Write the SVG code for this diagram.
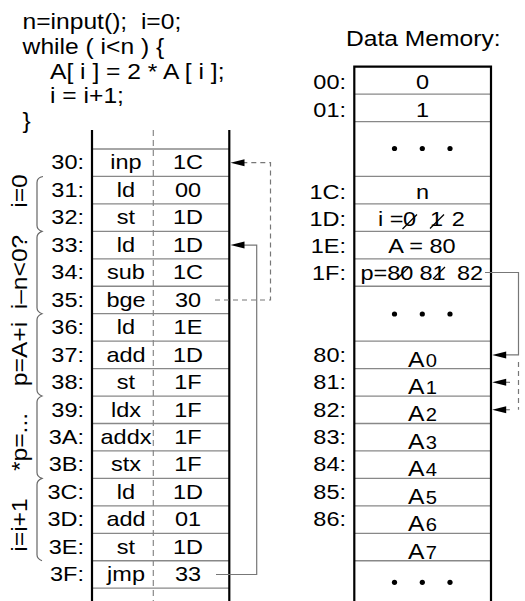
<svg xmlns="http://www.w3.org/2000/svg" width="525" height="601" viewBox="0 0 525 601">
<style>
.t{font-family:"Liberation Sans",Arial,Helvetica,sans-serif;font-size:21px;fill:#000;transform-box:fill-box;transform:scaleX(1.12);white-space:pre}
.c{font-size:22px}
.a{font-size:22px}
.m{text-anchor:middle;transform-origin:center}
.e{text-anchor:end;transform-origin:right center}
.s{text-anchor:start;transform-origin:left center}
.sub{font-size:18px}
.row{stroke:#888;stroke-width:1.3}
.box{fill:none;stroke:#000;stroke-width:2.2}
.dv{stroke:#888;stroke-width:1.2;stroke-dasharray:6 4}
.cn{fill:none;stroke:#777;stroke-width:1.2}
.dash{stroke-dasharray:5 4}
.ah{fill:#000}
.br{fill:none;stroke:#666;stroke-width:1.2}
.dot{fill:#000}
.st{stroke:#000;stroke-width:1.2}
</style>

<g id="code">
<text class="t c s" x="22.5" y="29" xml:space="preserve">n=input();  i=0;</text>
<text class="t c s" x="22.5" y="54">while ( i&lt;n ) {</text>
<text class="t c s" x="50" y="79">A[ i ] = 2 * A [ i ];</text>
<text class="t c s" x="50" y="103.5">i = i+1;</text>
<text class="t c s" x="22.5" y="128">}</text>
</g>

<g id="program-memory">
<line class="dv" x1="153.3" y1="130" x2="153.3" y2="601"/>
<line class="row" x1="92" y1="149" x2="229" y2="149"/>
<line class="row" x1="92" y1="176.45" x2="229" y2="176.45"/>
<line class="row" x1="92" y1="203.9" x2="229" y2="203.9"/>
<line class="row" x1="92" y1="231.35" x2="229" y2="231.35"/>
<line class="row" x1="92" y1="258.8" x2="229" y2="258.8"/>
<line class="row" x1="92" y1="286.25" x2="229" y2="286.25"/>
<line class="row" x1="92" y1="313.7" x2="229" y2="313.7"/>
<line class="row" x1="92" y1="341.15" x2="229" y2="341.15"/>
<line class="row" x1="92" y1="368.6" x2="229" y2="368.6"/>
<line class="row" x1="92" y1="396.05" x2="229" y2="396.05"/>
<line class="row" x1="92" y1="423.5" x2="229" y2="423.5"/>
<line class="row" x1="92" y1="450.95" x2="229" y2="450.95"/>
<line class="row" x1="92" y1="478.4" x2="229" y2="478.4"/>
<line class="row" x1="92" y1="505.85" x2="229" y2="505.85"/>
<line class="row" x1="92" y1="533.3" x2="229" y2="533.3"/>
<line class="row" x1="92" y1="560.75" x2="229" y2="560.75"/>
<line class="row" x1="92" y1="588.2" x2="229" y2="588.2"/>
<line class="box" x1="92" y1="130" x2="92" y2="601"/>
<line class="box" x1="229.3" y1="130" x2="229.3" y2="601"/>
</g>

<g id="p30"><text class="t e" x="84" y="169.5">30:</text><text class="t m" x="126" y="169.5">inp</text><text class="t m" x="188" y="169.5">1C</text></g>
<g id="p31"><text class="t e" x="84" y="196.95">31:</text><text class="t m" x="126" y="196.95">ld</text><text class="t m" x="188" y="196.95">00</text></g>
<g id="p32"><text class="t e" x="84" y="224.4">32:</text><text class="t m" x="126" y="224.4">st</text><text class="t m" x="188" y="224.4">1D</text></g>
<g id="p33"><text class="t e" x="84" y="251.85">33:</text><text class="t m" x="126" y="251.85">ld</text><text class="t m" x="188" y="251.85">1D</text></g>
<g id="p34"><text class="t e" x="84" y="279.3">34:</text><text class="t m" x="126" y="279.3">sub</text><text class="t m" x="188" y="279.3">1C</text></g>
<g id="p35"><text class="t e" x="84" y="306.75">35:</text><text class="t m" x="126" y="306.75">bge</text><text class="t m" x="188" y="306.75">30</text></g>
<g id="p36"><text class="t e" x="84" y="334.2">36:</text><text class="t m" x="126" y="334.2">ld</text><text class="t m" x="188" y="334.2">1E</text></g>
<g id="p37"><text class="t e" x="84" y="361.65">37:</text><text class="t m" x="126" y="361.65">add</text><text class="t m" x="188" y="361.65">1D</text></g>
<g id="p38"><text class="t e" x="84" y="389.1">38:</text><text class="t m" x="126" y="389.1">st</text><text class="t m" x="188" y="389.1">1F</text></g>
<g id="p39"><text class="t e" x="84" y="416.55">39:</text><text class="t m" x="126" y="416.55">ldx</text><text class="t m" x="188" y="416.55">1F</text></g>
<g id="p3A"><text class="t e" x="84" y="444">3A:</text><text class="t m" x="126" y="444">addx</text><text class="t m" x="188" y="444">1F</text></g>
<g id="p3B"><text class="t e" x="84" y="471.45">3B:</text><text class="t m" x="126" y="471.45">stx</text><text class="t m" x="188" y="471.45">1F</text></g>
<g id="p3C"><text class="t e" x="84" y="498.9">3C:</text><text class="t m" x="126" y="498.9">ld</text><text class="t m" x="188" y="498.9">1D</text></g>
<g id="p3D"><text class="t e" x="84" y="526.35">3D:</text><text class="t m" x="126" y="526.35">add</text><text class="t m" x="188" y="526.35">01</text></g>
<g id="p3E"><text class="t e" x="84" y="553.8">3E:</text><text class="t m" x="126" y="553.8">st</text><text class="t m" x="188" y="553.8">1D</text></g>
<g id="p3F"><text class="t e" x="84" y="581.25">3F:</text><text class="t m" x="126" y="581.25">jmp</text><text class="t m" x="188" y="581.25">33</text></g>

<g id="groups">
<path class="br" d="M43,176.5 Q37,177.5 37,182.5 V225.4 Q37,229.4 42,231.35 Q37,233.3 37,237.3 V307.7 Q37,311.7 42,313.7 Q37,315.7 37,319.7 V390 Q37,394 42,396.05 Q37,398 37,402 V472.4 Q37,476.4 42,478.4 Q37,480.4 37,484.4 V554.7 Q37,558.7 42,560.75"/>
<g transform="translate(27,191) rotate(-90)"><text class="t c m" x="0" y="0">i=0</text></g>
<g transform="translate(27,272) rotate(-90)"><text class="t c m" x="0" y="0">i–n&lt;0?</text></g>
<g transform="translate(27,354) rotate(-90)"><text class="t c m" x="0" y="0">p=A+i</text></g>
<g transform="translate(27,442) rotate(-90)"><text class="t c m" x="0" y="0">*p=...</text></g>
<g transform="translate(27,525) rotate(-90)"><text class="t c m" x="0" y="0">i=i+1</text></g>
</g>

<g id="data-memory">
<text class="t c s" x="346" y="46">Data Memory:</text>
<line class="row" x1="354" y1="94.1" x2="491" y2="94.1"/>
<line class="row" x1="354" y1="121.55" x2="491" y2="121.55"/>
<line class="row" x1="354" y1="176.45" x2="491" y2="176.45"/>
<line class="row" x1="354" y1="203.9" x2="491" y2="203.9"/>
<line class="row" x1="354" y1="231.35" x2="491" y2="231.35"/>
<line class="row" x1="354" y1="258.8" x2="491" y2="258.8"/>
<line class="row" x1="354" y1="286.25" x2="491" y2="286.25"/>
<line class="row" x1="354" y1="341.15" x2="491" y2="341.15"/>
<line class="row" x1="354" y1="368.6" x2="491" y2="368.6"/>
<line class="row" x1="354" y1="396.05" x2="491" y2="396.05"/>
<line class="row" x1="354" y1="423.5" x2="491" y2="423.5"/>
<line class="row" x1="354" y1="450.95" x2="491" y2="450.95"/>
<line class="row" x1="354" y1="478.4" x2="491" y2="478.4"/>
<line class="row" x1="354" y1="505.85" x2="491" y2="505.85"/>
<line class="row" x1="354" y1="533.3" x2="491" y2="533.3"/>
<line class="row" x1="354" y1="560.75" x2="491" y2="560.75"/>
<path class="box" d="M354.3,601 V66.65 H491 V601"/>
</g>

<g id="d00"><text class="t e" x="346" y="89.2">00:</text><text class="t m" x="422.5" y="89.2">0</text></g>
<g id="d01"><text class="t e" x="346" y="116.6">01:</text><text class="t m" x="422.5" y="116.6">1</text></g>
<g id="dots1"><circle class="dot" cx="394.5" cy="148.5" r="2.6"/><circle class="dot" cx="422.3" cy="148.5" r="2.6"/><circle class="dot" cx="450" cy="148.5" r="2.6"/></g>
<g id="d1C"><text class="t e" x="346" y="199.5">1C:</text><text class="t m" x="422.5" y="199.5">n</text></g>
<g id="d1D"><text class="t e" x="346" y="226.5">1D:</text>
<text class="t s" x="378" y="226.5">i =</text><text class="t m" x="409.5" y="226.5">0</text><text class="t m" x="436.5" y="226.5">1</text><text class="t m" x="458.3" y="226.5">2</text>
<line class="st" x1="402.5" y1="229" x2="417" y2="214.5"/><line class="st" x1="430" y1="228.5" x2="444" y2="214.5"/></g>
<g id="d1E"><text class="t e" x="346" y="253.5">1E:</text><text class="t m" x="422" y="253.5">A = 80</text></g>
<g id="d1F"><text class="t e" x="346" y="280.5">1F:</text>
<text class="t s" x="360.5" y="280.5">p=80</text><text class="t m" x="432.5" y="280.5">81</text><text class="t m" x="470" y="280.5">82</text>
<line class="st" x1="397" y1="279" x2="409" y2="267"/><line class="st" x1="433" y1="279" x2="445" y2="267"/></g>
<g id="dots2"><circle class="dot" cx="394.5" cy="314" r="2.6"/><circle class="dot" cx="422.3" cy="314" r="2.6"/><circle class="dot" cx="450" cy="314" r="2.6"/></g>
<g id="d80"><text class="t e" x="346" y="361.7">80:</text><text class="t a m" x="422.5" y="366.6">A<tspan class="sub" dx="1">0</tspan></text></g>
<g id="d81"><text class="t e" x="346" y="389.2">81:</text><text class="t a m" x="422.5" y="394">A<tspan class="sub" dx="1">1</tspan></text></g>
<g id="d82"><text class="t e" x="346" y="416.6">82:</text><text class="t a m" x="422.5" y="421.5">A<tspan class="sub" dx="1">2</tspan></text></g>
<g id="d83"><text class="t e" x="346" y="444">83:</text><text class="t a m" x="422.5" y="449">A<tspan class="sub" dx="1">3</tspan></text></g>
<g id="d84"><text class="t e" x="346" y="471.5">84:</text><text class="t a m" x="422.5" y="476.4">A<tspan class="sub" dx="1">4</tspan></text></g>
<g id="d85"><text class="t e" x="346" y="499">85:</text><text class="t a m" x="422.5" y="503.8">A<tspan class="sub" dx="1">5</tspan></text></g>
<g id="d86"><text class="t e" x="346" y="526.4">86:</text><text class="t a m" x="422.5" y="531.3">A<tspan class="sub" dx="1">6</tspan></text></g>
<g id="dA7"><text class="t a m" x="422.5" y="558.7">A<tspan class="sub" dx="1">7</tspan></text></g>
<g id="dots3"><circle class="dot" cx="394.5" cy="582.3" r="2.6"/><circle class="dot" cx="422.3" cy="582.3" r="2.6"/><circle class="dot" cx="450" cy="582.3" r="2.6"/></g>

<g id="connectors">
<path class="cn dash" d="M215,300 H270.5 V162.7 H244"/>
<polygon class="ah" points="230.5,162.7 244.5,159.2 244.5,166.2"/>
<path class="cn" d="M216,574.5 H256.7 V245.1 H244"/>
<polygon class="ah" points="230.5,245.1 244.5,241.6 244.5,248.6"/>
<path class="cn" d="M485,272.5 H518.5 V354.9 H506"/>
<polygon class="ah" points="492.2,354.9 506.2,351.4 506.2,358.4"/>
<path class="cn dash" d="M518.5,362 V409.75"/>
<path class="cn" d="M506,382.3 H510"/>
<path class="cn" d="M506,409.75 H510"/>
<polygon class="ah" points="492.2,382.3 506.2,378.8 506.2,385.8"/>
<polygon class="ah" points="492.2,409.75 506.2,406.25 506.2,413.25"/>
</g>
</svg>
